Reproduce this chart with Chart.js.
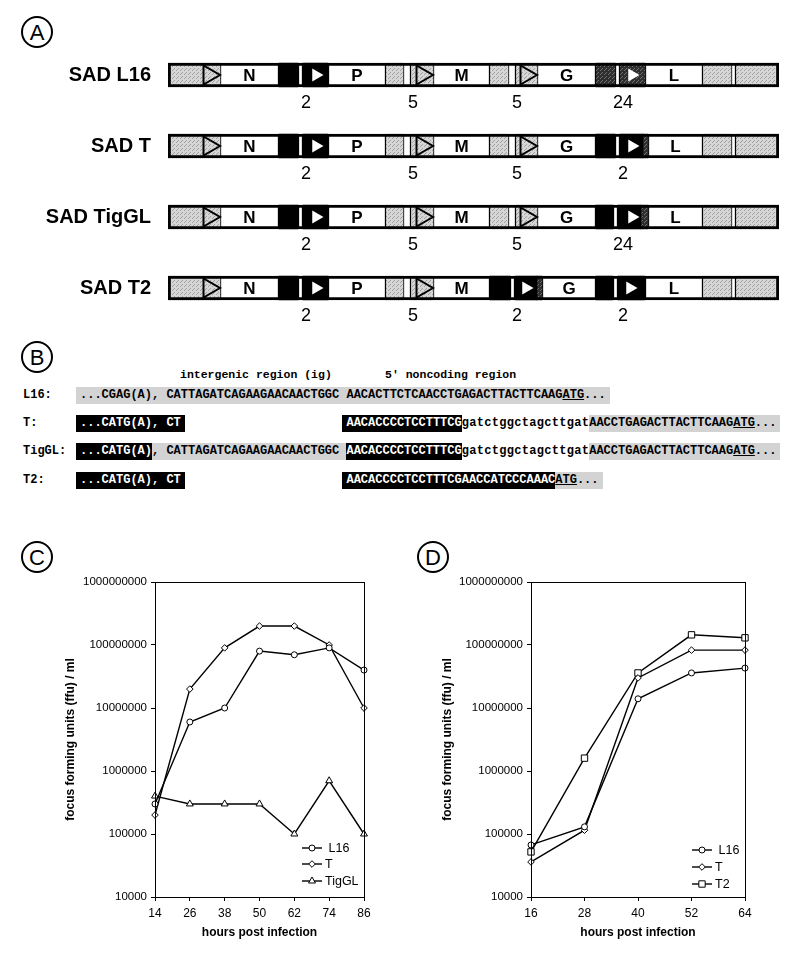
<!DOCTYPE html>
<html><head><meta charset="utf-8">
<script src="https://cdn.jsdelivr.net/npm/chart.js@4.4.1/dist/chart.umd.min.js"></script>
<style>
body{margin:0;background:#fff;width:800px;height:954px;position:relative;overflow:hidden;font-family:"Liberation Sans",Arial,sans-serif;color:#000;}
.circ{position:absolute;width:28px;height:28px;border:2px solid #000;border-radius:50%;font-size:22px;line-height:29px;text-align:center;}
.cv{position:absolute;}
.mono{position:absolute;font-family:"Liberation Mono","Courier New",monospace;font-weight:bold;white-space:pre;}
.hdr{font-size:11.5px;line-height:17px;}
.seq{font-size:12px;line-height:17px;height:17px;}
.seq span{display:inline-block;height:17px;line-height:17px;vertical-align:top;}
.g{background:#d3d3d3;}
.k{background:#000;color:#fff;}
.lc{letter-spacing:0.3px;}
.gl{box-shadow:-4px 0 0 #d3d3d3}.gr{box-shadow:4px 0 0 #d3d3d3}.glr{box-shadow:-4px 0 0 #d3d3d3,4px 0 0 #d3d3d3}
.kl{box-shadow:-4px 0 0 #000}.kr{box-shadow:4px 0 0 #000}.klr{box-shadow:-4px 0 0 #000,4px 0 0 #000}
</style>
</head><body>

<div class="circ" style="left:21px;top:16px">A</div>
<div class="circ" style="left:21px;top:341px">B</div>
<div class="circ" style="left:21px;top:541px">C</div>
<div class="circ" style="left:417px;top:541px">D</div>

<canvas id="mapChart" class="cv" style="left:0;top:30px" width="800" height="300"></canvas>

<div class="mono hdr" style="left:180px;top:366px">intergenic region (ig)</div>
<div class="mono hdr" style="left:385px;top:366px">5' noncoding region</div>

<div class="mono seq" style="left:23px;top:386.5px">L16:</div>
<div class="mono seq" style="left:23px;top:414.5px">T:</div>
<div class="mono seq" style="left:23px;top:443px">TigGL:</div>
<div class="mono seq" style="left:23px;top:471.5px">T2:</div>

<div class="mono seq" style="left:80px;top:386.5px"><span class="g glr">...CGAG(A), CATTAGATCAGAAGAACAACTGGC AACACTTCTCAACCTGAGACTTACTTCAAG<u>ATG</u>...</span></div>
<div class="mono seq" style="left:80px;top:414.5px"><span class="k klr">...CATG(A), CT</span><span>                       </span><span class="k kl">AACACCCCTCCTTTCG</span><span class="lc">gatctggctagcttgat</span><span class="g gr">AACCTGAGACTTACTTCAAG<u>ATG</u>...</span></div>
<div class="mono seq" style="left:80px;top:443px"><span class="k kl">...CATG(A)</span><span class="g">, CATTAGATCAGAAGAACAACTGGC </span><span class="k">AACACCCCTCCTTTCG</span><span class="lc">gatctggctagcttgat</span><span class="g gr">AACCTGAGACTTACTTCAAG<u>ATG</u>...</span></div>
<div class="mono seq" style="left:80px;top:471.5px"><span class="k klr">...CATG(A), CT</span><span>                       </span><span class="k kl">AACACCCCTCCTTTCGAACCATCCCAAAC</span><span class="g gr"><u>ATG</u>...</span></div>

<canvas id="chartC" class="cv" style="left:40px;top:570px" width="340" height="384"></canvas>
<canvas id="chartD" class="cv" style="left:420px;top:570px" width="341" height="384"></canvas>

<script>
// ---------- Panel A: genome maps ----------
const genomes = ['SAD L16', 'SAD T', 'SAD TigGL', 'SAD T2'];
// segments: [start, end, region type, gene name]
const mapL16 = [[0,52,'ncr'],[52,111,'gene','N'],[111,130,'ig'],[130,135,'ge'],[135,160,'ig'],[160,218,'gene','P'],[218,235,'ncr'],[235,243,'ge'],[243,265,'ncr'],[265,322,'gene','M'],[322,340,'ncr'],[340,348,'ge'],[348,369,'ncr'],[369,428,'gene','G'],[428,447,'igd'],[447,452,'ge'],[452,477,'igd'],[477,535,'gene','L'],[535,563,'ncr'],[563,568,'ge'],[568,611,'ncr']];
const mapT   = [[0,52,'ncr'],[52,111,'gene','N'],[111,130,'ig'],[130,135,'ge'],[135,160,'ig'],[160,218,'gene','P'],[218,235,'ncr'],[235,243,'ge'],[243,265,'ncr'],[265,322,'gene','M'],[322,340,'ncr'],[340,348,'ge'],[348,369,'ncr'],[369,428,'gene','G'],[428,447,'ig'],[447,452,'ge'],[452,475,'ig'],[475,480,'igd'],[480,535,'gene','L'],[535,563,'ncr'],[563,568,'ge'],[568,611,'ncr']];
const mapTigGL = [[0,52,'ncr'],[52,111,'gene','N'],[111,130,'ig'],[130,135,'ge'],[135,160,'ig'],[160,218,'gene','P'],[218,235,'ncr'],[235,243,'ge'],[243,265,'ncr'],[265,322,'gene','M'],[322,340,'ncr'],[340,348,'ge'],[348,369,'ncr'],[369,428,'gene','G'],[428,445,'ig'],[445,450,'ge'],[450,473,'ig'],[473,480,'igd'],[480,535,'gene','L'],[535,563,'ncr'],[563,568,'ge'],[568,611,'ncr']];
const mapT2  = [[0,52,'ncr'],[52,111,'gene','N'],[111,130,'ig'],[130,135,'ge'],[135,160,'ig'],[160,218,'gene','P'],[218,235,'ncr'],[235,243,'ge'],[243,265,'ncr'],[265,322,'gene','M'],[322,342,'ig'],[342,347,'ge'],[347,369,'ig'],[369,374,'igd'],[374,428,'gene','G'],[428,445,'ig'],[445,450,'ge'],[450,477,'ig'],[477,535,'gene','L'],[535,563,'ncr'],[563,568,'ge'],[568,611,'ncr']];
// transcription start signals (open = in noncoding, solid = in intergenic)
const openStartL16 = [41,254,358], openStartT = [41,254,358], openStartTigGL = [41,254,358], openStartT2 = [41,254];
const solidStartL16 = [148,464], solidStartT = [148,464], solidStartTigGL = [148,464], solidStartT2 = [148,358,462];
// intergenic region lengths
const igLenL16 = ['2','5','5','24'], igLenT = ['2','5','5','2'], igLenTigGL = ['2','5','5','24'], igLenT2 = ['2','5','2','2'];
const igPos = [138,245,349,455];
const genomeLength = 611;

const maps = [mapL16, mapT, mapTigGL, mapT2];
const openStarts = [openStartL16, openStartT, openStartTigGL, openStartT2];
const solidStarts = [solidStartL16, solidStartT, solidStartTigGL, solidStartT2];
const igLens = [igLenL16, igLenT, igLenTigGL, igLenT2];

function makePattern(base, dot) {
  const c = document.createElement('canvas'); c.width = 4; c.height = 4;
  const x = c.getContext('2d');
  x.fillStyle = base; x.fillRect(0,0,4,4);
  x.fillStyle = dot; x.fillRect(0,0,1,1); x.fillRect(2,2,1,1); x.fillRect(1,3,1,1);
  return x.createPattern(c, 'repeat');
}
const grayPat = makePattern('#d6d6d6', '#a0a0a0');
const darkPat = makePattern('#2e2e2e', '#707070');
const fillFor = {ncr: grayPat, gene: '#ffffff', ig: '#000000', igd: darkPat, ge: '#ffffff'};

const mapDatasets = [];
// outer frame (drawn on top)
mapDatasets.push({type:'bar', data: genomes.map(() => [0, genomeLength]), backgroundColor:'rgba(0,0,0,0)', borderColor:'#000', borderWidth:2.5, borderSkipped:false, grouped:false, barThickness:24, order:0});
genomes.forEach((g, row) => {
  mapDatasets.push({type:'line', showLine:false, data: openStarts[row].map(v => ({x:v, y:g})), pointStyle:'triangle', rotation:90, pointRadius:11, pointBackgroundColor:'rgba(0,0,0,0)', pointBorderColor:'#000', pointBorderWidth:2, order:1, clip:false});
  mapDatasets.push({type:'line', showLine:false, data: solidStarts[row].map(v => ({x:v, y:g})), pointStyle:'triangle', rotation:90, pointRadius:7.5, pointBackgroundColor:'#fff', pointBorderColor:'#fff', pointBorderWidth:0, order:1, clip:false});
  maps[row].forEach(seg => {
    const t = seg[2];
    const bordered = (t === 'gene' || t === 'ge');
    mapDatasets.push({type:'bar', data: genomes.map((_, i) => i === row ? [seg[0], seg[1]] : null),
      backgroundColor: fillFor[t], borderColor:'#000',
      borderWidth: bordered ? {left:1.5, right:1.5, top:0, bottom:0} : 0,
      borderSkipped:false, grouped:false, barThickness:24, order:2});
  });
});

const mapTextPlugin = {
  id: 'mapText',
  afterDatasetsDraw(chart) {
    const {ctx, scales:{x, y}} = chart;
    ctx.save();
    ctx.fillStyle = '#000';
    ctx.textAlign = 'center';
    genomes.forEach((g, row) => {
      const yc = y.getPixelForValue(row);
      ctx.font = 'bold 17px "Liberation Sans", Arial, sans-serif';
      ctx.textBaseline = 'middle';
      maps[row].forEach(seg => {
        if (seg[3]) ctx.fillText(seg[3], x.getPixelForValue((seg[0] + seg[1]) / 2), yc + 1);
      });
      ctx.font = '18px "Liberation Sans", Arial, sans-serif';
      igLens[row].forEach((lab, k) => ctx.fillText(lab, x.getPixelForValue(igPos[k]), yc + 28));
    });
    ctx.restore();
  }
};

new Chart(document.getElementById('mapChart'), {
  type: 'bar',
  data: { labels: genomes, datasets: mapDatasets },
  options: {
    indexAxis: 'y', responsive:false, animation:false,
    layout: { autoPadding:false, padding: {top:9.5, bottom:6.5, left:0, right:21} },
    plugins: { legend:{display:false}, tooltip:{enabled:false} },
    scales: {
      x: { type:'linear', min:0, max:genomeLength, display:false },
      y: { type:'category', labels: genomes, grid:{display:false, drawTicks:false}, border:{display:false},
           ticks:{ color:'#000', padding:17, font:{family:'"Liberation Sans", Arial, sans-serif', size:20, weight:'bold'} },
           afterFit(s){ s.width = 168; s.paddingTop = 0; s.paddingBottom = 0; } }
    }
  },
  plugins: [mapTextPlugin]
});

// ---------- Panels C & D: growth curves ----------
const hoursC = [14, 26, 38, 50, 62, 74, 86];
const ffuC_L16   = [3e5, 6e6, 1e7, 8e7, 7e7, 9e7, 4e7];
const ffuC_T     = [2e5, 2e7, 9e7, 2e8, 2e8, 1e8, 1e7];
const ffuC_TigGL = [4e5, 3e5, 3e5, 3e5, 1e5, 7e5, 1e5];

const hoursD = [16, 28, 40, 52, 64];
const ffuD_L16 = [6.7e4, 1.3e5, 1.4e7, 3.6e7, 4.3e7];
const ffuD_T   = [3.6e4, 1.15e5, 3.0e7, 8.3e7, 8.3e7];
const ffuD_T2  = [5.2e4, 1.6e6, 3.6e7, 1.45e8, 1.3e8];

const yTickValues = [1e4, 1e5, 1e6, 1e7, 1e8, 1e9];
const FONT = '"Liberation Sans", Arial, sans-serif';

const markerStyle = {
  L16:   {pointStyle:'circle',  radius:3},
  T:     {pointStyle:'rectRot', radius:3.3},
  TigGL: {pointStyle:'triangle',radius:4},
  T2:    {pointStyle:'rect',    radius:4.5}
};

function series(label, hours, values) {
  const m = markerStyle[label];
  return { label, data: hours.map((h, i) => ({x:h, y:values[i]})),
    borderColor:'#000', borderWidth:1.4, backgroundColor:'#fff',
    pointStyle:m.pointStyle, pointRadius:m.radius, pointBackgroundColor:'#fff',
    pointBorderColor:'#000', pointBorderWidth:1, tension:0, clip:8 };
}

const framePlugin = {
  id:'frame',
  afterDraw(chart) {
    const {ctx, chartArea:a} = chart;
    ctx.save(); ctx.strokeStyle = '#000'; ctx.lineWidth = 1;
    ctx.strokeRect(Math.round(a.left)+0.5, Math.round(a.top)+0.5, Math.round(a.right-a.left), Math.round(a.bottom-a.top));
    ctx.restore();
  }
};

function legendPlugin(dxLine, dyRows) {
  return {
    id:'inLegend',
    afterDraw(chart) {
      const {ctx, chartArea:a} = chart;
      ctx.save();
      ctx.font = '12.5px ' + FONT; ctx.fillStyle = '#000'; ctx.textBaseline = 'middle'; ctx.textAlign = 'left';
      chart.data.datasets.forEach((ds, i) => {
        const y = a.bottom + dyRows[i];
        const x0 = a.right + dxLine;
        ctx.strokeStyle = '#000'; ctx.lineWidth = 1.4;
        ctx.beginPath(); ctx.moveTo(x0, y); ctx.lineTo(x0 + 20, y); ctx.stroke();
        ctx.fillStyle = '#fff'; ctx.lineWidth = 1;
        Chart.helpers.drawPoint(ctx, {pointStyle: ds.pointStyle, radius: ds.pointRadius, borderWidth:1, rotation:0}, x0 + 10, y);
        ctx.fillStyle = '#000';
        ctx.fillText((ds.label === 'L16' ? ' ' : '') + ds.label, x0 + 23, y + 1);
      });
      ctx.restore();
    }
  };
}

function growthChart(id, hours, datasets, yWidth, titlePad, legend) {
  new Chart(document.getElementById(id), {
    type:'line',
    data:{ datasets },
    options:{
      responsive:false, animation:false,
      layout:{ autoPadding:false, padding:{top:12, right:16, left:0, bottom:0} },
      plugins:{ legend:{display:false}, tooltip:{enabled:false} },
      scales:{
        x:{ type:'linear', min:hours[0], max:hours[hours.length-1],
            afterBuildTicks(s){ s.ticks = hours.map(v => ({value:v})); },
            ticks:{ color:'#000', padding:5, autoSkip:false, maxRotation:0, font:{family:FONT, size:12}, callback:v => String(v) },
            grid:{ display:true, drawOnChartArea:false, drawTicks:true, tickLength:4, color:'#000', lineWidth:1 },
            border:{ color:'#000', width:1 },
            title:{ display:true, text:'hours post infection', color:'#000', font:{family:FONT, size:12, weight:'bold'}, padding:{top:0, bottom:14} },
            afterFit(s){ s.height = 57; } },
        y:{ type:'logarithmic', min:1e4, max:1e9,
            afterBuildTicks(s){ s.ticks = yTickValues.map(v => ({value:v})); },
            ticks:{ color:'#000', padding:4, autoSkip:false, font:{family:FONT, size:11.5}, callback:v => String(v) },
            grid:{ display:true, drawOnChartArea:false, drawTicks:true, tickLength:4, color:'#000', lineWidth:1 },
            border:{ color:'#000', width:1 },
            title:{ display:true, text:'focus forming units (ffu) / ml', color:'#000', font:{family:FONT, size:12, weight:'bold'}, padding:{top:titlePad, bottom:0} },
            afterFit(s){ s.width = yWidth; } }
      }
    },
    plugins:[framePlugin, legend]
  });
}

growthChart('chartC', hoursC, [
  series('L16', hoursC, ffuC_L16),
  series('T', hoursC, ffuC_T),
  series('TigGL', hoursC, ffuC_TigGL)
], 115, 23, legendPlugin(-62, [-49, -33, -16]));

growthChart('chartD', hoursD, [
  series('L16', hoursD, ffuD_L16),
  series('T', hoursD, ffuD_T),
  series('T2', hoursD, ffuD_T2)
], 111, 20, legendPlugin(-53, [-47, -30, -13]));
</script>
</body></html>
